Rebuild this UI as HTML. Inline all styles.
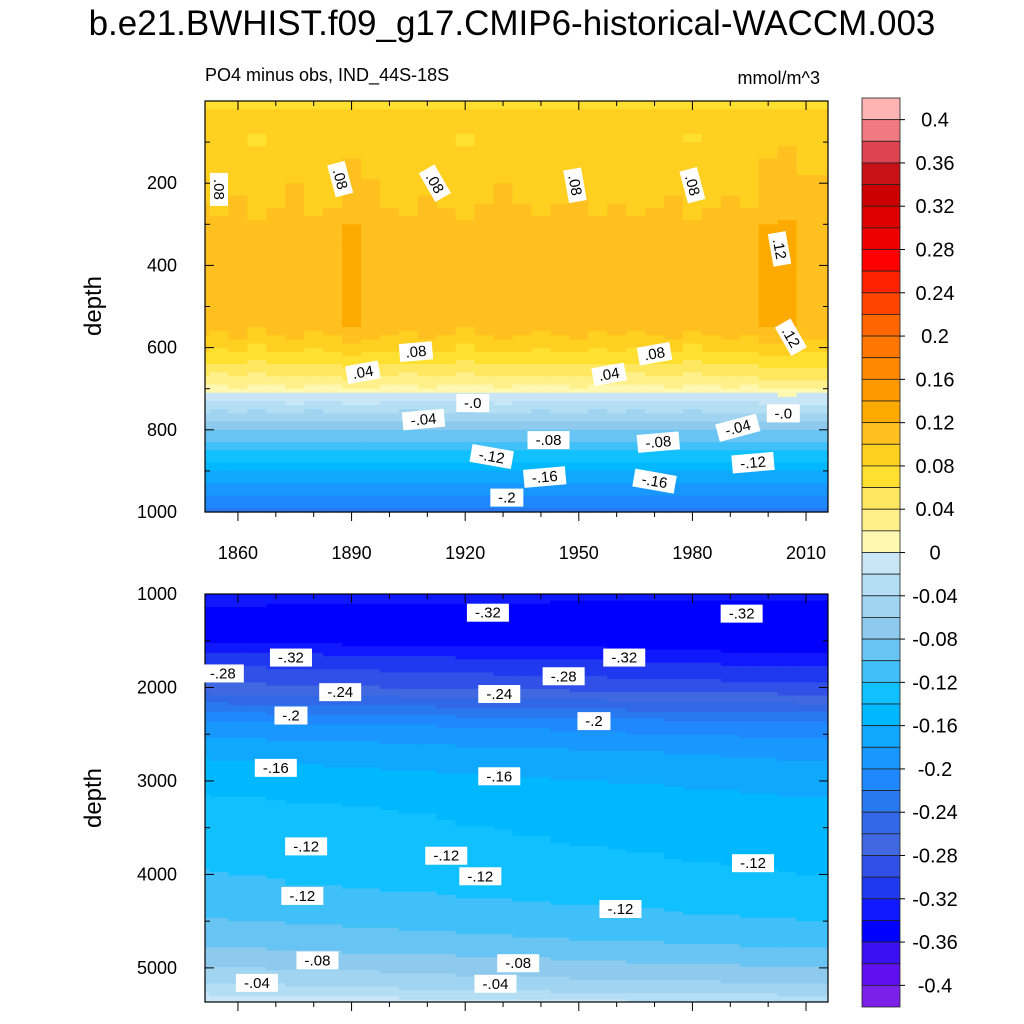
<!DOCTYPE html>
<html><head><meta charset="utf-8">
<style>
html,body{margin:0;padding:0;background:#fff;}
svg{display:block;font-family:"Liberation Sans",sans-serif;}
</style></head>
<body>
<svg id="chart" width="1024" height="1024" viewBox="0 0 1024 1024" xmlns="http://www.w3.org/2000/svg">
<text x="512" y="35" font-size="35" text-anchor="middle">b.e21.BWHIST.f09_g17.CMIP6-historical-WACCM.003</text>
<text x="205" y="81" font-size="18">PO4 minus obs, IND_44S-18S</text>
<text x="820" y="84" font-size="18" text-anchor="end">mmol/m^3</text>
<g id="top"></g>
<g id="bot"></g>
<g id="cbar"></g>
<text font-size="24" text-anchor="middle" transform="translate(101,306) rotate(-90)">depth</text>
<text font-size="24" text-anchor="middle" transform="translate(101,798) rotate(-90)">depth</text>
</svg>
<script>
const NS="http://www.w3.org/2000/svg";
const levels=[-0.42,-0.40,-0.38,-0.36,-0.34,-0.32,-0.30,-0.28,-0.26,-0.24,-0.22,-0.20,-0.18,-0.16,-0.14,-0.12,-0.10,-0.08,-0.06,-0.04,-0.02,0,0.02,0.04,0.06,0.08,0.10,0.12,0.14,0.16,0.18,0.20,0.22,0.24,0.26,0.28,0.30,0.32,0.34,0.36,0.38,0.40,0.42];
const colors=["#7a20e8","#6010f0","#3a10f0","#0000ff","#1018ff","#2038f0","#3050e8","#4068e0","#3068e8","#2878f0","#2088ff","#1898ff","#10a8ff","#00b8ff","#10c0ff","#40c0f8","#68c4f2","#8ecaee","#a0d4f0","#b4def4","#c8e6f6",
"#fff8b0","#fff08a","#ffe860","#ffe030","#ffd020","#ffc020","#ffaa00","#ff9900","#ff8800","#ff7700","#ff6600","#ff4400","#ff2200","#ff0000","#ee0000","#dd0000","#cc0000","#c81018","#dd4450","#f07a80","#ffb3b3"];
const cbarLabels=["0.4","0.36","0.32","0.28","0.24","0.2","0.16","0.12","0.08","0.04","0","-0.04","-0.08","-0.12","-0.16","-0.2","-0.24","-0.28","-0.32","-0.36","-0.4"];
const topDepths=[0,100,250,300,550,580,620,650,680,700,720,750,780,810,840,870,900,930,960,1000];
const topValues=[0.079,0.085,0.095,0.108,0.108,0.092,0.072,0.052,0.032,0.012,-0.012,-0.035,-0.06,-0.085,-0.11,-0.135,-0.16,-0.18,-0.2,-0.225];
const topYears=[1850,1855,1860,1865,1870,1875,1880,1885,1890,1895,1900,1905,1910,1915,1920,1925,1930,1935,1940,1945,1950,1955,1960,1965,1970,1975,1980,1985,1990,1995,2000,2005,2010];
const topAnom=[0.004,-0.004,0.006,-0.006,0.003,0.008,-0.003,0.002,0.012,0.009,0.002,-0.004,0.006,0.003,-0.006,0.004,0.008,0.005,-0.003,0.004,0.006,-0.002,0.005,-0.004,0.002,0.006,-0.005,0.002,0.006,0.003,0.012,0.014,0.01];
const botDepths=[1000,1150,1500,1700,2000,2200,2400,2700,3000,3300,3700,4100,4400,4700,4900,5100,5250,5365];
const botValues=[-0.325,-0.35,-0.35,-0.32,-0.285,-0.245,-0.205,-0.175,-0.158,-0.145,-0.138,-0.128,-0.115,-0.098,-0.08,-0.06,-0.04,-0.015];
const botYears=topYears;
const botTrend=[0.012,0.011,0.01,0.01,0.009,0.008,0.008,0.007,0.006,0.006,0.005,0.004,0.004,0.003,0.002,0.002,0.001,0,0,-0.001,-0.002,-0.002,-0.003,-0.004,-0.004,-0.005,-0.006,-0.006,-0.007,-0.008,-0.008,-0.009,-0.01];
const xTicks=[1860,1890,1920,1950,1980,2010];
const topYTicks=[200,400,600,800,1000];
const botYTicks=[1000,2000,3000,4000,5000];
const topContourLabels=[{t:".08",y:1855,d:215,r:90},{t:".08",y:1887,d:190,r:75},{t:".08",y:1912,d:200,r:60},{t:".08",y:1949,d:205,r:80},{t:".08",y:1980,d:205,r:75},{t:".12",y:2003,d:360,r:80},{t:".12",y:2006,d:575,r:60},{t:".08",y:1907,d:610,r:-5},{t:".08",y:1970,d:615,r:-10},{t:".04",y:1893,d:660,r:-10},{t:".04",y:1958,d:665,r:-10},{t:"-.0",y:1922,d:735,r:0},{t:"-.0",y:2004,d:760,r:0},{t:"-.04",y:1909,d:775,r:-5},{t:"-.04",y:1992,d:795,r:-15},{t:"-.08",y:1942,d:825,r:0},{t:"-.08",y:1971,d:830,r:-5},{t:"-.12",y:1927,d:865,r:10},{t:"-.12",y:1996,d:880,r:-5},{t:"-.16",y:1941,d:915,r:-5},{t:"-.16",y:1970,d:925,r:10},{t:"-.2",y:1931,d:965,r:0}];
const botContourLabels=[{t:"-.32",y:1926,d:1200},{t:"-.32",y:1993,d:1210},{t:"-.32",y:1874,d:1680},{t:"-.32",y:1962,d:1680},{t:"-.28",y:1856,d:1850},{t:"-.28",y:1946,d:1880},{t:"-.24",y:1887,d:2050},{t:"-.24",y:1929,d:2070},{t:"-.2",y:1874,d:2300},{t:"-.2",y:1954,d:2360},{t:"-.16",y:1870,d:2860},{t:"-.16",y:1929,d:2950},{t:"-.12",y:1878,d:3700},{t:"-.12",y:1915,d:3800},{t:"-.12",y:1924,d:4020},{t:"-.12",y:1996,d:3880},{t:"-.12",y:1877,d:4230},{t:"-.12",y:1961,d:4370},{t:"-.08",y:1881,d:4920},{t:"-.08",y:1934,d:4950},{t:"-.04",y:1865,d:5160},{t:"-.04",y:1928,d:5170}];

const X0=205,X1=828,Y0=1851.3,Y1=2015.8;
function xs(yr){return X0+(yr-Y0)/(Y1-Y0)*(X1-X0);}
const topY=d=>101+(d)/1000*(512-101);
const botY=d=>594+(d-1000)/(5365-1000)*(1002-594);
function interp(ds,vs,d){if(d<=ds[0])return vs[0];for(let i=1;i<ds.length;i++){if(d<=ds[i]){const f=(d-ds[i-1])/(ds[i]-ds[i-1]);return vs[i-1]+f*(vs[i]-vs[i-1]);}}return vs[vs.length-1];}
function col(v){for(let i=0;i<colors.length;i++){if(v<levels[i+1])return colors[i];}return colors[colors.length-1];}
function el(tag,attrs,parent){const e=document.createElementNS(NS,tag);for(const k in attrs)e.setAttribute(k,attrs[k]);parent.appendChild(e);return e;}

function panel(g,years,ds,vs,extra,yfun,d0,d1,step,yTicks,minorStep,labels,showXLabels){
  for(let i=0;i<years.length;i++){
    const xa=i===0?X0:Math.max(X0,xs(years[i]-2.5));
    const xb=i===years.length-1?X1:Math.min(X1,xs(years[i]+2.5));
    for(let d=d0;d<d1;d+=step){
      const v=interp(ds,vs,d+step/2)+extra(i,d+step/2);
      const hh=Math.min(yfun(d+step),yfun(d1))-yfun(d);
      const r=el('rect',{x:xa.toFixed(2),y:yfun(d).toFixed(2),width:(xb-xa+(i===years.length-1?0:0.6)).toFixed(2),height:(hh+0.6).toFixed(2),fill:col(v)},g);
      
      
    }
  }
  const top=yfun(d0),bot=yfun(d1);
  const fr=el('rect',{x:X0,y:top,width:X1-X0,height:bot-top,fill:'none',stroke:'#000','stroke-width':1.2},g);
  
  
  for(let yr=1860;yr<=2010;yr+=10){
    const x=xs(yr),L=(yr-1860)%30===0?9:5;
    el('line',{x1:x,x2:x,y1:bot,y2:bot+L,stroke:'#000'},g);
    el('line',{x1:x,x2:x,y1:top,y2:top+L,stroke:'#000'},g);
  }
  if(showXLabels){xTicks.forEach(yr=>{const t=el('text',{x:xs(yr),y:559,'font-size':18,'text-anchor':'middle'},g);t.textContent=yr;});}
  for(let d=d0;d<=d1;d+=minorStep){
    const y=yfun(d);const major=yTicks.includes(d);const L=major?9:5;
    if(y<top-0.5||y>bot+0.5)continue;
    el('line',{x1:X0,x2:X0+L,y1:y,y2:y,stroke:'#000'},g);
    el('line',{x1:X1-L,x2:X1,y1:y,y2:y,stroke:'#000'},g);
  }
  yTicks.forEach(d=>{const t=el('text',{x:177,y:yfun(d)+6,'font-size':18,'text-anchor':'end'},g);t.textContent=d;});
  labels.forEach(o=>{
    const x=xs(o.y),y=yfun(o.d);const txt=o.t;const w=txt.length*9+6;
    const lg=el('g',{transform:`translate(${x},${y}) rotate(${o.r||0})`},g);
    
    
    el('rect',{x:-w/2,y:-9,width:w,height:18,fill:'#fff'},lg);
    const t=el('text',{x:0,y:5,'font-size':15,'text-anchor':'middle'},lg);t.textContent=txt;
  });
}
const gt=document.getElementById('top'),gb=document.getElementById('bot');
panel(gt,topYears,topDepths,topValues,(i,d)=>(d>80&&d<600?topAnom[i]:(d>=600&&d<780?topAnom[i]*0.5:0)),topY,0,1000,10,topYTicks,100,topContourLabels,true);
panel(gb,botYears,botDepths,botValues,(i,d)=>botTrend[i]*(d<1600?0.6:1),botY,1000,5365,35,botYTicks,500,botContourLabels,false);
const cb=document.getElementById('cbar');const CT=98,CB=1007,n=colors.length,h=(CB-CT)/n;
for(let i=0;i<n;i++){const c=colors[n-1-i];const r=el('rect',{x:862,y:CT+i*h,width:38,height:h,fill:c,stroke:'#222','stroke-width':0.8},cb);}
cbarLabels.forEach((s,i)=>{const y=CT+h*(1+2*i);const t=el('text',{x:935,y:y+7,'font-size':20,'text-anchor':'middle'},cb);t.textContent=s;el('line',{x1:900,x2:905,y1:y,y2:y,stroke:'#000'},cb);});
</script>
</body></html>
